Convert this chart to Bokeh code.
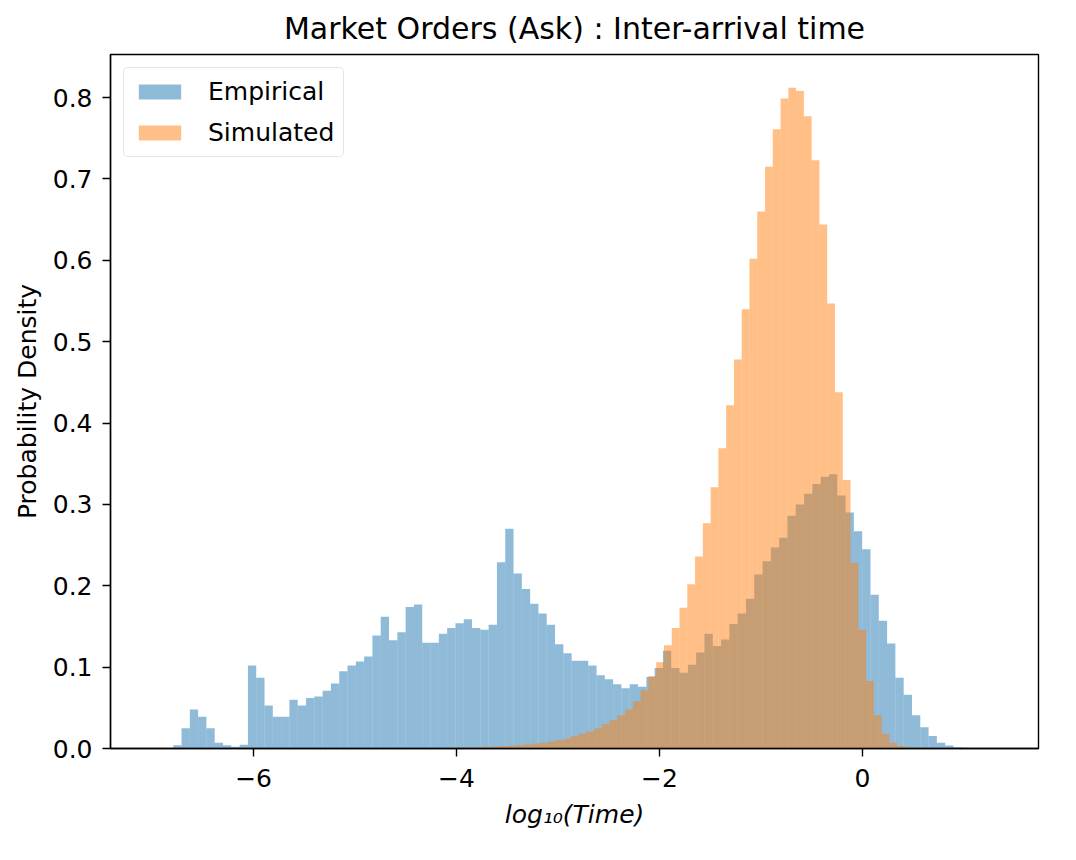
import numpy as np
from bokeh.plotting import figure
from bokeh.models import ColumnDataSource, Legend, LegendItem, FixedTicker, NumeralTickFormatter
from bokeh.embed import file_html
from bokeh.resources import INLINE

# ---- data ----
title_text = "Market Orders (Ask) : Inter-arrival time"
x_label = "log\u2081\u2080(Time)"
y_label = "Probability Density"
series_names = ["Empirical", "Simulated"]

# Empirical: bins of equal width starting at emp_start
emp_start = -6.792
emp_width = 0.0818
emp_density = [
    0.004, 0.025, 0.048, 0.039, 0.025, 0.007, 0.004, 0.002, 0.0045, 0.102,
    0.087, 0.053, 0.039, 0.039, 0.060, 0.053, 0.062, 0.064, 0.071, 0.080,
    0.095, 0.102, 0.107, 0.113, 0.139, 0.162, 0.133, 0.143, 0.174, 0.177,
    0.130, 0.130, 0.141, 0.148, 0.154, 0.159, 0.148, 0.146, 0.152, 0.229,
    0.270, 0.215, 0.196, 0.178, 0.166, 0.152, 0.128, 0.117, 0.108, 0.108,
    0.102, 0.090, 0.085, 0.079, 0.074, 0.079, 0.076, 0.088, 0.099, 0.120,
    0.099, 0.093, 0.103, 0.118, 0.141, 0.126, 0.134, 0.153, 0.166, 0.184,
    0.214, 0.230, 0.247, 0.259, 0.286, 0.300, 0.313, 0.325, 0.334, 0.337,
    0.311, 0.290, 0.267, 0.245, 0.189, 0.157, 0.129, 0.087, 0.066, 0.041,
    0.026, 0.0155, 0.007, 0.0037, 0.0016, 0.0008,
]

# Simulated: bins of equal width starting at sim_start
sim_start = -4.407
sim_width = 0.0766
sim_density = [
    0.0002, 0.0003, 0.0004, 0.0005, 0.0006, 0.0008, 0.001, 0.0013, 0.0016, 0.002,
    0.0025, 0.003, 0.0036, 0.0043, 0.005, 0.006, 0.007, 0.0085, 0.010, 0.012,
    0.015, 0.018, 0.021, 0.025, 0.030, 0.035, 0.041, 0.048, 0.058, 0.072,
    0.089, 0.106, 0.127, 0.148, 0.173, 0.202, 0.236, 0.277, 0.321, 0.369,
    0.422, 0.478, 0.540, 0.602, 0.660, 0.715, 0.761, 0.799, 0.812, 0.808,
    0.777, 0.723, 0.644, 0.547, 0.438, 0.330, 0.228, 0.146, 0.083, 0.041,
    0.018, 0.007, 0.003, 0.0015, 0.0008,
]

x_ticks = [-6, -4, -2, 0]
x_tick_labels = ["\u22126", "\u22124", "\u22122", "0"]
y_ticks = [0.0, 0.1, 0.2, 0.3, 0.4, 0.5, 0.6, 0.7, 0.8]

# ---- build sources ----
emp_left = emp_start + emp_width * np.arange(len(emp_density))
emp_src = ColumnDataSource(dict(left=emp_left, right=emp_left + emp_width,
                                top=emp_density, bottom=np.zeros(len(emp_density))))
sim_left = sim_start + sim_width * np.arange(len(sim_density))
sim_src = ColumnDataSource(dict(left=sim_left, right=sim_left + sim_width,
                                top=sim_density, bottom=np.zeros(len(sim_density))))

FONT = "DejaVu Sans"

p = figure(width=1068, height=852, x_range=(-7.41, 1.735), y_range=(0, 0.853),
           output_backend="svg", toolbar_location=None, title=title_text,
           min_border_left=110, min_border_right=30, min_border_top=54, min_border_bottom=104)
p.background_fill_color = "white"
p.border_fill_color = "white"
p.outline_line_color = "black"
p.outline_line_width = 1.4
p.xgrid.grid_line_color = None
p.ygrid.grid_line_color = None

p.title.align = "center"
p.title.text_font = FONT
p.title.text_font_size = "30px"
p.title.text_font_style = "normal"
p.title.text_color = "black"
p.title.standoff = 17

r_emp = p.quad(left="left", right="right", top="top", bottom="bottom", source=emp_src,
               fill_color="#1f77b4", fill_alpha=0.5, line_color=None)
r_sim = p.quad(left="left", right="right", top="top", bottom="bottom", source=sim_src,
               fill_color="#ff7f0e", fill_alpha=0.5, line_color=None)

for ax in (p.xaxis[0], p.yaxis[0]):
    ax.axis_line_color = "black"
    ax.axis_line_width = 1.4
    ax.major_tick_line_color = "black"
    ax.major_tick_line_width = 1.4
    ax.major_tick_out = 8
    ax.major_tick_in = 0
    ax.minor_tick_line_color = None
    ax.major_label_text_font = FONT
    ax.major_label_text_font_size = "25px"
    ax.major_label_text_color = "black"
    ax.axis_label_text_font = FONT
    ax.axis_label_text_font_size = "25px"
    ax.axis_label_text_color = "black"

p.xaxis.ticker = FixedTicker(ticks=x_ticks)
p.xaxis.major_label_overrides = {t: lab for t, lab in zip(x_ticks, x_tick_labels)}
p.xaxis.major_label_standoff = 12
p.xaxis.axis_label = x_label
p.xaxis.axis_label_text_font_style = "italic"
p.xaxis.axis_label_standoff = 10

p.yaxis.ticker = FixedTicker(ticks=y_ticks)
p.yaxis.formatter = NumeralTickFormatter(format="0.0")
p.yaxis.major_label_standoff = 10
p.yaxis.axis_label = y_label
p.yaxis.axis_label_text_font_style = "normal"
p.yaxis.axis_label_standoff = 8

legend = Legend(items=[LegendItem(label=series_names[0], renderers=[r_emp]),
                       LegendItem(label=series_names[1], renderers=[r_sim])],
                location="top_left")
legend.margin = 13
legend.padding = 9
legend.spacing = 12
legend.glyph_width = 53
legend.glyph_height = 19
legend.label_standoff = 22
legend.label_text_font = FONT
legend.label_text_font_size = "25px"
legend.label_text_color = "black"
legend.border_line_color = "#cccccc"
legend.border_line_width = 1.5
legend.border_radius = 5
legend.background_fill_alpha = 0.8
p.add_layout(legend)

open("out.html", "w").write(file_html(p, INLINE))
